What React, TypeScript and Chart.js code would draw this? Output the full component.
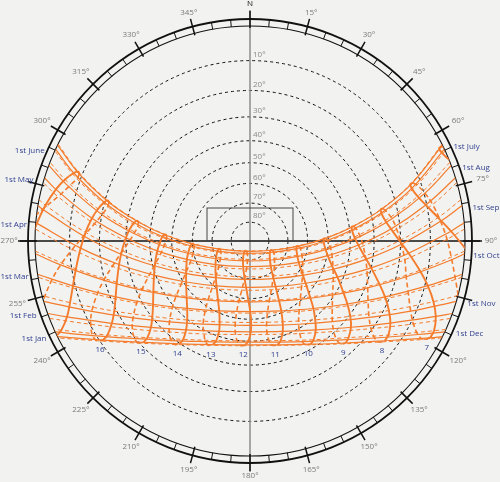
import React, { useEffect, useRef } from "react";
import { Chart, registerables } from "chart.js";
Chart.register(...registerables);

// Sun positions [azimuth°, altitude°] at clock hours 5..18 for the 1st and 15th of each month
const HOURS = [5, 6, 7, 8, 9, 10, 11, 12, 13, 14, 15, 16, 17, 18];
const LABELED_HOURS = [7, 8, 9, 10, 11, 12, 13, 14, 15, 16];

const JAN_1 = [[105.3,-21.5],[111.4,-9.0],[118.3,2.9],[126.5,14.1],[136.8,23.9],[149.6,31.8],[165.2,36.9],[182.5,38.4],[199.6,35.8],[214.4,29.8],[226.4,21.3],[236.0,11.0],[243.8,-0.4],[250.5,-12.6]];
const JAN_15 = [[102.9,-22.0],[109.1,-9.4],[116.0,2.8],[124.2,14.2],[134.4,24.6],[147.2,32.7],[162.9,38.3],[180.9,40.2],[198.7,37.9],[214.2,32.1],[226.7,23.5],[236.6,13.1],[244.7,1.7],[251.5,-10.6]];
const FEB_1 = [[98.5,-21.4],[105.0,-8.5],[112.1,4.0],[120.3,15.8],[130.5,26.6],[143.5,35.6],[160.1,41.8],[179.5,44.2],[198.9,42.1],[215.7,36.0],[228.9,27.1],[239.2,16.4],[247.5,4.7],[254.6,-7.8]];
const FEB_15 = [[94.3,-19.7],[101.1,-6.6],[108.3,6.1],[116.6,18.3],[126.9,29.5],[140.4,39.1],[158.0,45.9],[179.2,48.5],[200.6,46.2],[218.5,39.7],[232.3,30.3],[242.7,19.2],[251.1,7.0],[258.4,-5.7]];
const MAR_1 = [[89.7,-17.0],[96.8,-3.8],[104.1,9.1],[112.5,21.6],[122.9,33.3],[136.8,43.4],[155.9,50.8],[179.8,53.6],[203.8,50.9],[223.0,43.6],[236.9,33.4],[247.4,21.8],[255.8,9.3],[263.1,-3.6]];
const MAR_15 = [[85.2,-13.6],[92.5,-0.5],[99.8,12.6],[108.2,25.4],[118.6,37.5],[133.0,48.2],[153.9,56.1],[181.5,59.0],[208.7,55.5],[228.8,47.2],[242.6,36.3],[252.8,24.1],[260.9,11.3],[268.3,-1.8]];
const APR_1 = [[79.9,-9.3],[87.2,3.8],[94.4,17.0],[102.5,30.0],[112.4,42.5],[127.2,54.0],[150.7,62.7],[184.8,65.6],[216.7,60.8],[237.3,51.1],[250.4,39.3],[259.8,26.5],[267.6,13.5],[274.7,0.3]];
const APR_15 = [[75.7,-5.7],[82.9,7.2],[89.9,20.4],[97.5,33.5],[107.1,46.4],[121.3,58.4],[146.8,68.0],[189.1,70.9],[225.4,64.7],[245.2,53.8],[257.1,41.3],[265.7,28.3],[273.0,15.1],[279.9,2.0]];
const MAY_1 = [[71.5,-2.4],[78.4,10.3],[85.1,23.3],[92.1,36.5],[100.7,49.6],[113.7,62.2],[140.1,72.9],[195.0,76.0],[235.6,68.0],[253.7,56.0],[263.9,43.1],[271.5,30.0],[278.2,16.8],[284.9,3.9]];
const MAY_15 = [[68.3,-0.3],[75.1,12.2],[81.4,25.1],[87.8,38.2],[95.4,51.3],[106.6,64.2],[131.6,75.9],[200.8,79.6],[244.6,70.2],[260.0,57.6],[268.8,44.5],[275.6,31.3],[281.9,18.3],[288.4,5.6]];
const JUN_1 = [[65.4,1.0],[72.0,13.3],[78.0,26.0],[83.8,39.0],[90.4,52.2],[99.4,65.3],[120.0,77.8],[206.9,82.7],[252.7,72.0],[265.4,59.0],[272.9,45.6],[279.0,32.8],[284.9,19.9],[291.1,7.4]];
const JUN_15 = [[63.9,1.2],[70.5,13.3],[76.4,25.9],[82.0,38.9],[88.1,52.0],[96.0,65.1],[113.3,77.9],[207.0,84.1],[255.9,73.1],[267.5,60.0],[274.4,46.9],[280.2,33.8],[285.9,21.0],[292.0,8.5]];
const JUL_1 = [[63.7,0.4],[70.3,12.5],[76.2,25.1],[81.9,38.1],[88.0,51.2],[95.9,64.3],[112.4,77.1],[199.2,84.2],[254.7,73.7],[266.6,60.7],[273.8,47.5],[279.7,34.5],[285.3,21.6],[291.4,9.1]];
const JUL_15 = [[64.7,-0.6],[71.5,11.4],[77.6,24.1],[83.5,37.1],[90.0,50.2],[98.7,63.3],[116.3,75.9],[191.3,82.9],[248.6,73.5],[263.4,60.7],[271.4,47.6],[277.3,34.5],[283.6,21.5],[289.8,8.9]];
const AUG_1 = [[67.8,-2.8],[74.7,9.7],[81.1,22.5],[87.6,35.7],[95.1,48.8],[105.8,61.8],[127.5,73.7],[187.3,79.3],[238.4,71.6],[256.7,59.4],[266.5,46.3],[273.7,33.2],[280.1,20.1],[286.7,7.3]];
const AUG_15 = [[71.6,-4.6],[78.7,8.2],[85.4,21.2],[92.5,34.4],[101.1,47.4],[113.7,60.0],[137.8,70.8],[187.1,75.1],[230.1,68.5],[250.1,57.0],[261.3,44.2],[269.4,31.1],[276.3,17.9],[283.0,5.0]];
const SEP_1 = [[76.9,-6.4],[84.1,6.6],[91.2,19.7],[99.0,32.8],[108.8,45.6],[123.3,57.5],[148.5,66.8],[188.4,69.5],[223.3,63.6],[243.3,52.9],[255.5,40.6],[264.3,27.6],[271.7,14.5],[278.7,1.4]];
const SEP_15 = [[82.3,-8.1],[89.5,5.0],[96.9,18.1],[105.3,31.1],[116.0,43.4],[131.7,54.4],[156.3,62.2],[189.5,63.9],[218.8,58.4],[237.8,48.5],[250.4,36.6],[259.6,23.9],[267.3,10.8],[274.5,-2.3]];
const OCT_1 = [[88.1,-9.7],[95.3,3.4],[102.9,16.6],[111.7,29.0],[123.2,40.7],[139.3,50.6],[162.4,57.1],[190.5,58.0],[215.4,52.7],[233.2,43.5],[245.6,32.1],[255.0,19.7],[262.8,6.8],[270.0,-6.3]];
const OCT_15 = [[93.5,-11.4],[100.6,1.6],[108.3,14.4],[117.4,26.5],[129.1,37.5],[145.1,46.5],[166.3,52.0],[190.6,52.4],[212.5,47.5],[229.1,38.8],[241.3,28.0],[250.7,16.0],[258.5,3.3],[265.6,-9.8]];
const NOV_1 = [[99.1,-13.6],[105.9,-0.7],[113.6,11.6],[122.7,23.3],[134.4,33.6],[149.7,41.7],[168.9,46.4],[190.0,46.6],[209.4,42.1],[224.9,34.1],[236.7,23.9],[246.0,12.3],[253.7,-0.1],[260.6,-12.9]];
const NOV_15 = [[102.8,-15.6],[109.4,-3.0],[116.9,9.1],[125.9,20.4],[137.2,30.3],[151.7,37.9],[169.5,42.3],[188.8,42.5],[206.3,38.5],[221.6,31.0],[233.2,21.3],[242.4,10.2],[250.0,-1.9],[256.7,-14.5]];
const DEC_1 = [[105.5,-18.0],[111.9,-5.5],[119.1,6.4],[127.9,17.4],[138.8,27.0],[152.5,34.4],[169.0,38.8],[186.9,39.3],[203.9,35.8],[218.3,28.9],[229.8,19.8],[239.0,9.0],[246.6,-2.7],[253.1,-15.0]];
const DEC_15 = [[106.4,-19.9],[112.5,-7.5],[119.6,4.3],[128.0,15.3],[138.6,24.9],[151.7,32.5],[167.5,37.1],[184.9,37.9],[201.6,34.9],[216.0,28.5],[227.6,19.7],[236.9,9.3],[244.5,-2.2],[251.0,-14.4]];

const SUNRISE_AZIMUTH = [116.4,114.3,109.7,104.7,98.9,92.7,85.1,78.9,72.9,68.5,64.7,63.2,63.5,65.2,69.4,74.2,80.5,86.8,93.4,99.7,106.3,111.1,115.0,116.8];
const DAYS = [JAN_1,JAN_15,FEB_1,FEB_15,MAR_1,MAR_15,APR_1,APR_15,MAY_1,MAY_15,JUN_1,JUN_15,JUL_1,JUL_15,AUG_1,AUG_15,SEP_1,SEP_15,OCT_1,OCT_15,NOV_1,NOV_15,DEC_1,DEC_15];
const LEFT_LABELS = ["1st Jan", "1st Feb", "1st Mar", "1st Apr", "1st May", "1st June"];
const RIGHT_LABELS = ["1st July", "1st Aug", "1st Sep", "1st Oct", "1st Nov", "1st Dec"];
const ALTITUDE_RINGS = [10, 20, 30, 40, 50, 60, 70, 80];
const AZIMUTH_LABELS = [15,30,45,60,75,90,120,135,150,165,180,195,210,225,240,255,270,300,315,330,345];

const HORIZON = 215;
const ORANGE = "#f47c2c";
const NAVY = "#2f3f8f";

const rad = (d: number) => (d * Math.PI) / 180;
// stereographic sky projection: azimuth/altitude -> chart units (zenith at origin, north up)
function project(az: number, alt: number) {
  const r = HORIZON * Math.tan(rad((90 - alt) / 2));
  return { x: r * Math.sin(rad(az)), y: r * Math.cos(rad(az)) };
}

export default function App() {
  const ref = useRef<HTMLCanvasElement>(null);
  useEffect(() => {
    const canvas = ref.current!;
    const datasets: any[] = [];
    DAYS.forEach((day, i) => {
      const rise = SUNRISE_AZIMUTH[i];
      const pts = [project(rise, 0)];
      day.forEach(([az, alt]) => { if (alt > 1) pts.push(project(az, alt)); });
      pts.push(project(360 - rise, 0));
      const solid = i % 2 === 0;
      datasets.push({ data: pts, borderColor: ORANGE, borderWidth: solid ? 1.2 : 1, borderDash: solid ? [] : [4, 3], showLine: true, pointRadius: 0, tension: 0.4 });
    });
    HOURS.forEach((_, j) => {
      const firstHalf = DAYS.slice(0, 13).map((d) => project(d[j][0], d[j][1]));
      const secondHalf = [...DAYS.slice(12), DAYS[0]].map((d) => project(d[j][0], d[j][1]));
      datasets.push({ data: firstHalf, borderColor: ORANGE, borderWidth: 1.9, showLine: true, pointRadius: 0, tension: 0.4 });
      datasets.push({ data: secondHalf, borderColor: ORANGE, borderWidth: 1.6, borderDash: [5, 3], showLine: true, pointRadius: 0, tension: 0.4 });
    });

    const frame = {
      id: "frame",
      beforeDraw(c: any) {
        const ctx = c.ctx;
        ctx.save();
        ctx.fillStyle = "#f2f2f0";
        ctx.fillRect(0, 0, c.width, c.height);
        ctx.restore();
      },
      beforeDatasetsDraw(c: any) {
        const ctx = c.ctx, xs = c.scales.x, ys = c.scales.y;
        const cx = xs.getPixelForValue(0), cy = ys.getPixelForValue(0);
        const k = xs.getPixelForValue(1) - cx;
        ctx.save();
        ctx.strokeStyle = "#111";
        ctx.setLineDash([3, 3]);
        ctx.lineWidth = 1;
        ALTITUDE_RINGS.forEach((a) => {
          const p = project(0, a);
          ctx.beginPath(); ctx.arc(cx, cy, p.y * k, 0, Math.PI * 2); ctx.stroke();
        });
        ctx.setLineDash([]);
        ctx.strokeStyle = "#8c8c8c"; ctx.lineWidth = 1.5;
        ctx.beginPath(); ctx.moveTo(cx, cy - 231 * k); ctx.lineTo(cx, cy + 231 * k); ctx.stroke();
        ctx.strokeStyle = "#111"; ctx.lineWidth = 1.4;
        ctx.beginPath(); ctx.moveTo(cx - 232 * k, cy); ctx.lineTo(cx + 232 * k, cy); ctx.stroke();
        ctx.strokeStyle = "#444"; ctx.lineWidth = 1;
        ctx.strokeRect(cx - 43 * k, cy - 33 * k, 86 * k, 33 * k);
        ctx.strokeStyle = "#111";
        ctx.lineWidth = 1.1; ctx.beginPath(); ctx.arc(cx, cy, HORIZON * k, 0, Math.PI * 2); ctx.stroke();
        ctx.lineWidth = 1.8; ctx.beginPath(); ctx.arc(cx, cy, 222 * k, 0, Math.PI * 2); ctx.stroke();
        for (let a = 0; a < 360; a += 5) {
          const major = a % 15 === 0;
          const s = Math.sin(rad(a)), co = Math.cos(rad(a));
          const r1 = major ? 213 : 215, r2 = major ? 230 : 222;
          ctx.lineWidth = major ? 1.5 : 1;
          ctx.beginPath(); ctx.moveTo(cx + r1 * s * k, cy - r1 * co * k); ctx.lineTo(cx + r2 * s * k, cy - r2 * co * k); ctx.stroke();
        }
        ctx.restore();
        ctx.save();
        ctx.beginPath(); ctx.arc(cx, cy, HORIZON * k, 0, Math.PI * 2); ctx.clip();
      },
      afterDatasetsDraw(c: any) {
        const ctx = c.ctx, xs = c.scales.x, ys = c.scales.y;
        ctx.restore();
        const cx = xs.getPixelForValue(0), cy = ys.getPixelForValue(0);
        const k = xs.getPixelForValue(1) - cx;
        const W = c.width;
        const px = (p: any) => ({ x: xs.getPixelForValue(p.x), y: ys.getPixelForValue(p.y) });
        ctx.save();
        ctx.font = "8px 'Open Sans'";
        ctx.textBaseline = "middle"; ctx.textAlign = "center";
        ctx.fillStyle = "#7a7a7a";
        AZIMUTH_LABELS.forEach((a) => {
          const s = Math.sin(rad(a)), co = Math.cos(rad(a));
          const r = 235 + 6 * Math.abs(s);
          ctx.fillText(a + "°", cx + r * s * k, cy - r * co * k);
        });
        ctx.fillStyle = "#111";
        ctx.fillText("N", cx, cy - 237 * k);
        ctx.textAlign = "left"; ctx.textBaseline = "bottom"; ctx.fillStyle = "#8a8a8a";
        ALTITUDE_RINGS.forEach((a) => {
          const p = project(0, a);
          ctx.fillText(a + "°", cx + 3, cy - p.y * k - 2);
        });
        ctx.fillStyle = NAVY; ctx.font = "8px 'Open Sans'"; ctx.textBaseline = "middle"; ctx.textAlign = "left";
        LEFT_LABELS.forEach((t, j) => {
          const p = px(project(360 - SUNRISE_AZIMUTH[j * 2], 0));
          const w = ctx.measureText(t).width;
          ctx.fillText(t, Math.max(0.5, p.x - 11 - w), p.y + 2);
        });
        RIGHT_LABELS.forEach((t, j) => {
          const p = px(project(SUNRISE_AZIMUTH[12 + j * 2], 0));
          const w = ctx.measureText(t).width;
          ctx.fillText(t, Math.min(W - 0.5 - w, p.x + 11), p.y + 2);
        });
        ctx.textAlign = "center";
        LABELED_HOURS.forEach((hr) => {
          const j = HOURS.indexOf(hr);
          const a = px(project(JAN_1[j][0], JAN_1[j][1]));
          const b = px(project(DEC_15[j][0], DEC_15[j][1]));
          ctx.fillText(String(hr), (a.x + b.x) / 2, (a.y + b.y) / 2 + 9.5);
        });
        ctx.restore();
      },
    };

    const chart = new Chart(canvas, {
      type: "scatter",
      data: { datasets },
      options: {
        animation: false, responsive: false, devicePixelRatio: 1,
        layout: { padding: 0 },
        plugins: { legend: { display: false }, tooltip: { enabled: false } },
        scales: {
          x: { type: "linear", min: -250, max: 250, display: false },
          y: { type: "linear", min: -241, max: 241, display: false },
        },
      },
      plugins: [frame],
    });
    return () => chart.destroy();
  }, []);
  return (
    <div style={{ position: "fixed", left: 0, top: 0, width: 500, height: 482, background: "#f2f2f0" }}>
      <canvas ref={ref} width={500} height={482} />
    </div>
  );
}
